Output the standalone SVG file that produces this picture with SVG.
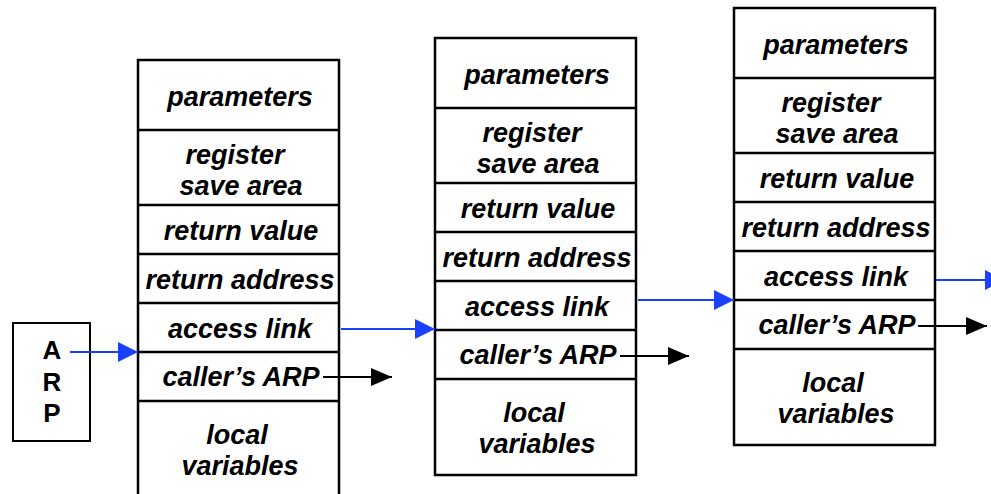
<svg xmlns="http://www.w3.org/2000/svg" width="991" height="494" viewBox="0 0 991 494">
  <style>
    .cell { fill: #ffffff; stroke: #000000; stroke-width: 2.5; }
    .sep { stroke: #000000; stroke-width: 2.5; }
    .lbl { font-family: "Liberation Sans", Arial, sans-serif; font-weight: bold; font-style: italic; font-size: 27px; fill: #000000; text-anchor: middle; }
    .arp { font-family: "Liberation Sans", Arial, sans-serif; font-weight: bold; font-size: 26px; fill: #000000; text-anchor: middle; }
    .link { stroke: #1a40ff; stroke-width: 2; fill: none; }
    .ptr { stroke: #000000; stroke-width: 2; fill: none; }
  </style>
  <defs>
    <marker id="blueHead" markerUnits="userSpaceOnUse" markerWidth="20" markerHeight="20" refX="20" refY="10" orient="auto">
      <path d="M0,0 L20,10 L0,20 z" fill="#1a40ff"/>
    </marker>
    <marker id="blackHead" markerUnits="userSpaceOnUse" markerWidth="21" markerHeight="18" refX="21" refY="9" orient="auto">
      <path d="M0,0 L21,9 L0,18 z" fill="#000000"/>
    </marker>
    <!-- one activation record: fields stacked top to bottom -->
    <g id="record">
      <rect class="cell" x="0" y="0" width="201" height="437"/>
      <line class="sep" x1="0" y1="70" x2="201" y2="70"/>
      <line class="sep" x1="0" y1="145" x2="201" y2="145"/>
      <line class="sep" x1="0" y1="194" x2="201" y2="194"/>
      <line class="sep" x1="0" y1="243" x2="201" y2="243"/>
      <line class="sep" x1="0" y1="292" x2="201" y2="292"/>
      <line class="sep" x1="0" y1="341" x2="201" y2="341"/>
      <text class="lbl" x="102" y="46">parameters</text>
      <text class="lbl" x="97" y="104">register</text>
      <text class="lbl" x="103" y="135">save area</text>
      <text class="lbl" x="103" y="180">return value</text>
      <text class="lbl" x="102" y="229">return address</text>
      <text class="lbl" x="102" y="278">access link</text>
      <text class="lbl" x="103" y="326">caller’s ARP</text>
      <text class="lbl" x="99" y="384">local</text>
      <text class="lbl" x="102" y="415">variables</text>
    </g>
  </defs>

  <g id="arp-register">
    <rect x="13" y="323" width="77" height="118" fill="#ffffff" stroke="#000000" stroke-width="2"/>
    <text class="arp" x="52" y="359">A</text>
    <text class="arp" x="52" y="391">R</text>
    <text class="arp" x="52" y="422">P</text>
  </g>

  <g id="frame-1">
    <use href="#record" x="138" y="60"/>
  </g>
  <g id="frame-2">
    <use href="#record" x="435" y="38"/>
  </g>
  <g id="frame-3">
    <use href="#record" x="734" y="8"/>
  </g>

  <g id="connectors">
    <line class="link" x1="70" y1="352" x2="138" y2="352" marker-end="url(#blueHead)"/>
    <line class="link" x1="341" y1="329" x2="435" y2="329" marker-end="url(#blueHead)"/>
    <line class="link" x1="638" y1="300" x2="734" y2="300" marker-end="url(#blueHead)"/>
    <line class="link" x1="936" y1="280" x2="1005" y2="280" marker-end="url(#blueHead)"/>
    <line class="ptr" x1="323" y1="377" x2="392" y2="377" marker-end="url(#blackHead)"/>
    <line class="ptr" x1="620" y1="356" x2="689" y2="356" marker-end="url(#blackHead)"/>
    <line class="ptr" x1="918" y1="326" x2="987" y2="326" marker-end="url(#blackHead)"/>
  </g>
</svg>
